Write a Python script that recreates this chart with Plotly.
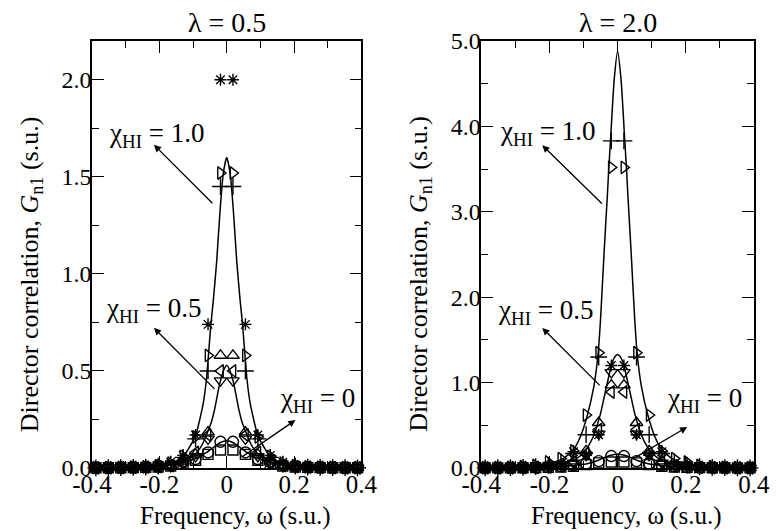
import plotly.graph_objects as go

# ---------------- data ----------------
omega = [-0.3885, -0.3515, -0.3145, -0.2775, -0.2405, -0.2035, -0.1665, -0.1295, -0.0925, -0.0555, -0.0185,
         0.0185, 0.0555, 0.0925, 0.1295, 0.1665, 0.2035, 0.2405, 0.2775, 0.3145, 0.3515, 0.3885]

# lambda = 0.5 panel, simulation points
L_star_c10 = [0.002, 0.002, 0.003, 0.005, 0.008, 0.015, 0.03, 0.065, 0.17, 0.74, 2.0,
              2.0, 0.74, 0.17, 0.065, 0.03, 0.015, 0.008, 0.005, 0.003, 0.002, 0.002]
L_tri_r_c10 = [0.002, 0.002, 0.003, 0.004, 0.006, 0.012, 0.025, 0.06, 0.16, 0.58, 1.52,
               1.52, 0.58, 0.16, 0.06, 0.025, 0.012, 0.006, 0.004, 0.003, 0.002, 0.002]
L_plus_c10 = [0.001, 0.002, 0.002, 0.003, 0.005, 0.01, 0.02, 0.055, 0.15, 0.50, 1.45,
              1.45, 0.50, 0.15, 0.055, 0.02, 0.01, 0.005, 0.003, 0.002, 0.002, 0.001]
L_tri_u_c05 = [0.001, 0.001, 0.002, 0.003, 0.005, 0.008, 0.015, 0.035, 0.07, 0.185, 0.58,
               0.58, 0.185, 0.07, 0.035, 0.015, 0.008, 0.005, 0.003, 0.002, 0.001, 0.001]
L_tri_l_c05 = [0.001, 0.001, 0.002, 0.003, 0.004, 0.007, 0.012, 0.03, 0.08, 0.17, 0.50,
               0.50, 0.17, 0.08, 0.03, 0.012, 0.007, 0.004, 0.003, 0.002, 0.001, 0.001]
L_tri_d_c05 = [0.001, 0.001, 0.002, 0.002, 0.004, 0.006, 0.01, 0.025, 0.06, 0.15, 0.45,
               0.45, 0.15, 0.06, 0.025, 0.01, 0.006, 0.004, 0.002, 0.002, 0.001, 0.001]
L_circ_c0 = [0.001, 0.001, 0.002, 0.003, 0.004, 0.008, 0.015, 0.03, 0.046, 0.08, 0.135,
             0.135, 0.08, 0.046, 0.03, 0.015, 0.008, 0.004, 0.003, 0.002, 0.001, 0.001]
L_sq_c0 = [0.001, 0.001, 0.001, 0.002, 0.003, 0.005, 0.01, 0.02, 0.04, 0.07, 0.093,
           0.093, 0.07, 0.04, 0.02, 0.01, 0.005, 0.003, 0.002, 0.001, 0.001, 0.001]

# lambda = 2.0 panel, simulation points
R_plus_c10 = [0.002, 0.003, 0.005, 0.008, 0.015, 0.03, 0.07, 0.17, 0.39, 1.3, 3.83,
              3.83, 1.3, 0.39, 0.17, 0.07, 0.03, 0.015, 0.008, 0.005, 0.003, 0.002]
R_tri_r_c10 = [0.003, 0.005, 0.008, 0.015, 0.03, 0.07, 0.11, 0.2, 0.62, 1.35, 3.52,
               3.52, 1.35, 0.62, 0.2, 0.11, 0.07, 0.03, 0.015, 0.008, 0.005, 0.003]
R_star_c05 = [0.002, 0.003, 0.004, 0.006, 0.01, 0.02, 0.04, 0.19, 0.15, 0.39, 1.2,
              1.2, 0.39, 0.15, 0.19, 0.04, 0.02, 0.01, 0.006, 0.004, 0.003, 0.002]
R_tri_d_c05 = [0.002, 0.002, 0.003, 0.005, 0.008, 0.015, 0.03, 0.06, 0.15, 0.40, 1.12,
               1.12, 0.40, 0.15, 0.06, 0.03, 0.015, 0.008, 0.005, 0.003, 0.002, 0.002]
R_tri_u_c05 = [0.002, 0.002, 0.003, 0.005, 0.008, 0.015, 0.03, 0.08, 0.2, 0.53, 0.97,
               0.97, 0.53, 0.2, 0.08, 0.03, 0.015, 0.008, 0.005, 0.003, 0.002, 0.002]
R_tri_l_c05 = [0.002, 0.002, 0.003, 0.004, 0.007, 0.012, 0.025, 0.07, 0.17, 0.45, 0.89,
               0.89, 0.45, 0.17, 0.07, 0.025, 0.012, 0.007, 0.004, 0.003, 0.002, 0.002]
R_circ_c0 = [0.002, 0.002, 0.003, 0.004, 0.006, 0.01, 0.02, 0.03, 0.05, 0.08, 0.14,
             0.14, 0.08, 0.05, 0.03, 0.02, 0.01, 0.006, 0.004, 0.003, 0.002, 0.002]
R_sq_c0 = [0.001, 0.001, 0.002, 0.003, 0.004, 0.007, 0.012, 0.02, 0.04, 0.06, 0.07,
           0.07, 0.06, 0.04, 0.02, 0.012, 0.007, 0.004, 0.003, 0.002, 0.001, 0.001]

# theory curves
LA_w = [-0.4, -0.3, -0.25, -0.2, -0.17, -0.14, -0.13, -0.12, -0.1, -0.09, -0.08, -0.07, -0.06, -0.047, -0.04, -0.03, -0.02, -0.01, 0.0,
        0.01, 0.02, 0.03, 0.04, 0.047, 0.06, 0.07, 0.08, 0.09, 0.1, 0.12, 0.13, 0.14, 0.17, 0.2, 0.25, 0.3, 0.4]
LA_g = [0.0, 0.002, 0.004, 0.01, 0.02, 0.04, 0.05, 0.08, 0.14, 0.18, 0.25, 0.33, 0.46, 0.74, 0.86, 1.06, 1.32, 1.52, 1.6,
        1.52, 1.32, 1.06, 0.86, 0.74, 0.46, 0.33, 0.25, 0.18, 0.14, 0.08, 0.05, 0.04, 0.02, 0.01, 0.004, 0.002, 0.0]
LB_w = [-0.4, -0.3, -0.2, -0.15, -0.12, -0.1, -0.08, -0.07, -0.058, -0.045, -0.035, -0.025, -0.02, -0.01, 0.0,
        0.01, 0.02, 0.025, 0.035, 0.045, 0.058, 0.07, 0.08, 0.1, 0.12, 0.15, 0.2, 0.3, 0.4]
LB_g = [0.0, 0.002, 0.008, 0.02, 0.04, 0.06, 0.1, 0.13, 0.18, 0.24, 0.31, 0.40, 0.44, 0.5, 0.53,
        0.5, 0.44, 0.40, 0.31, 0.24, 0.18, 0.13, 0.1, 0.06, 0.04, 0.02, 0.008, 0.002, 0.0]
LC_w = [-0.4, -0.3, -0.25, -0.2, -0.17, -0.13, -0.09, -0.06, -0.04, -0.02, 0.0,
        0.02, 0.04, 0.06, 0.09, 0.13, 0.17, 0.2, 0.25, 0.3, 0.4]
LC_g = [0.0, 0.002, 0.004, 0.009, 0.015, 0.028, 0.05, 0.08, 0.105, 0.13, 0.14,
        0.13, 0.105, 0.08, 0.05, 0.028, 0.015, 0.009, 0.004, 0.002, 0.0]

RA_w = [-0.4, -0.3, -0.25, -0.2, -0.16, -0.13, -0.11, -0.09, -0.07, -0.057, -0.05, -0.04, -0.03, -0.026, -0.02, -0.01, 0.0,
        0.01, 0.02, 0.026, 0.03, 0.04, 0.05, 0.057, 0.07, 0.09, 0.11, 0.13, 0.16, 0.2, 0.25, 0.3, 0.4]
RA_g = [0.0, 0.008, 0.02, 0.05, 0.11, 0.21, 0.36, 0.6, 0.95, 1.35, 1.75, 2.5, 3.2, 3.5, 3.9, 4.55, 4.88,
        4.55, 3.9, 3.5, 3.2, 2.5, 1.75, 1.35, 0.95, 0.6, 0.36, 0.21, 0.11, 0.05, 0.02, 0.008, 0.0]
RB_w = [-0.4, -0.3, -0.25, -0.2, -0.16, -0.13, -0.11, -0.09, -0.07, -0.06, -0.05, -0.04, -0.03, -0.0185, -0.01, 0.0,
        0.01, 0.0185, 0.03, 0.04, 0.05, 0.06, 0.07, 0.09, 0.11, 0.13, 0.16, 0.2, 0.25, 0.3, 0.4]
RB_g = [0.0, 0.005, 0.01, 0.025, 0.05, 0.09, 0.14, 0.23, 0.38, 0.5, 0.64, 0.82, 1.0, 1.2, 1.29, 1.33,
        1.29, 1.2, 1.0, 0.82, 0.64, 0.5, 0.38, 0.23, 0.14, 0.09, 0.05, 0.025, 0.01, 0.005, 0.0]
RC_w = [-0.4, -0.3, -0.25, -0.2, -0.17, -0.13, -0.09, -0.06, -0.04, -0.02, 0.0,
        0.02, 0.04, 0.06, 0.09, 0.13, 0.17, 0.2, 0.25, 0.3, 0.4]
RC_g = [0.0, 0.002, 0.004, 0.01, 0.015, 0.028, 0.05, 0.085, 0.12, 0.15, 0.16,
        0.15, 0.12, 0.085, 0.05, 0.028, 0.015, 0.01, 0.004, 0.002, 0.0]

x_tickvals = [-0.4, -0.2, 0.0, 0.2, 0.4]
x_ticktext = ["-0.4", "-0.2", "0", "0.2", "0.4"]
yL_tickvals = [0.0, 0.5, 1.0, 1.5, 2.0]
yL_ticktext = ["0.0", "0.5", "1.0", "1.5", "2.0"]
yR_tickvals = [0.0, 1.0, 2.0, 3.0, 4.0, 5.0]
yR_ticktext = ["0.0", "1.0", "2.0", "3.0", "4.0", "5.0"]
panel_titles = ["λ = 0.5", "λ = 2.0"]
chi_labels = ["χ<sub>HI</sub> = 1.0", "χ<sub>HI</sub> = 0.5", "χ<sub>HI</sub> = 0"]
x_title = "Frequency, ω (s.u.)"
y_title = "Director correlation, <i>G</i><sub>n1</sub> (s.u.)"

FONT = "Liberation Serif"
DOM_L = [0, 0.407]
DOM_R = [0.588, 1.0]

fig = go.Figure()

def curve(xs, ys, xa, ya):
    fig.add_trace(go.Scatter(x=xs, y=ys, mode="lines", line=dict(color="black", width=1.5, shape="spline", smoothing=0.6),
                             xaxis=xa, yaxis=ya, showlegend=False, hoverinfo="skip"))

def pts(ys, sym, xa, ya, size=10):
    fig.add_trace(go.Scatter(x=omega, y=ys, mode="markers", cliponaxis=False,
                             marker=dict(symbol=sym, size=size, color="black", line=dict(color="black", width=1.4)),
                             xaxis=xa, yaxis=ya, showlegend=False))

for xs, ys in [(LA_w, LA_g), (LB_w, LB_g), (LC_w, LC_g)]:
    curve(xs, ys, "x", "y")
for xs, ys in [(RA_w, RA_g), (RB_w, RB_g), (RC_w, RC_g)]:
    curve(xs, ys, "x2", "y2")

pts(L_sq_c0, "square-open", "x", "y", 10)
pts(L_circ_c0, "circle-open", "x", "y", 11)
pts(L_tri_d_c05, "triangle-down-open", "x", "y", 11)
pts(L_tri_l_c05, "triangle-left-open", "x", "y", 11)
pts(L_tri_u_c05, "triangle-up-open", "x", "y", 11)
pts(L_plus_c10, "cross-thin-open", "x", "y", 12)
pts(L_tri_r_c10, "triangle-right-open", "x", "y", 11)
pts(L_star_c10, "asterisk-open", "x", "y", 10)

pts(R_sq_c0, "square-open", "x2", "y2", 10)
pts(R_circ_c0, "circle-open", "x2", "y2", 11)
pts(R_tri_l_c05, "triangle-left-open", "x2", "y2", 11)
pts(R_tri_u_c05, "triangle-up-open", "x2", "y2", 11)
pts(R_tri_d_c05, "triangle-down-open", "x2", "y2", 11)
pts(R_star_c05, "asterisk-open", "x2", "y2", 10)
pts(R_tri_r_c10, "triangle-right-open", "x2", "y2", 11)
pts(R_plus_c10, "cross-thin-open", "x2", "y2", 12)

axis_common = dict(showline=True, linecolor="black", linewidth=1.5, mirror="allticks", ticks="inside",
                   ticklen=12, tickwidth=1.3, tickcolor="black", showgrid=False, zeroline=False)
xtickfont = dict(family=FONT, size=25, color="black")
ytickfont = dict(family=FONT, size=24, color="black")
minor_x = dict(dtick=0.1, ticks="inside", ticklen=7, tickcolor="black", tickwidth=1.2)

# the page body adds an 8 px margin, so the figure is 8 px smaller and its margins 8 px tighter
fig.update_layout(
    width=774, height=523, plot_bgcolor="white", paper_bgcolor="white",
    margin=dict(l=84, r=17, t=33, b=63),
    font=dict(family=FONT, size=24, color="black"),
    xaxis=dict(domain=DOM_L, range=[-0.4, 0.4], tickvals=x_tickvals, ticktext=x_ticktext,
               minor=minor_x, tickfont=xtickfont, ticklabelstandoff=-7, **axis_common),
    yaxis=dict(range=[0, 2.2], tickvals=yL_tickvals, ticktext=yL_ticktext, tickfont=ytickfont,
               ticklabelstandoff=-6,
               minor=dict(dtick=0.25, ticks="inside", ticklen=7, tickcolor="black", tickwidth=1.2),
               **axis_common),
    xaxis2=dict(domain=DOM_R, range=[-0.4, 0.4], tickvals=x_tickvals, ticktext=x_ticktext, anchor="y2",
                minor=minor_x, tickfont=xtickfont, ticklabelstandoff=-7, **axis_common),
    yaxis2=dict(range=[0, 5.0], tickvals=yR_tickvals, ticktext=yR_ticktext, anchor="x2", tickfont=ytickfont,
                ticklabelstandoff=-6,
                minor=dict(dtick=0.5, ticks="inside", ticklen=7, tickcolor="black", tickwidth=1.2),
                **axis_common),
)

# panel titles and axis titles (paper coordinates)
for i, t in enumerate(panel_titles):
    dom = DOM_L if i == 0 else DOM_R
    cx = (dom[0] + dom[1]) / 2
    fig.add_annotation(text=t, xref="paper", yref="paper", x=cx, y=1, xanchor="center", yanchor="middle",
                       yshift=19, showarrow=False, font=dict(family=FONT, size=28, color="black"))
    fig.add_annotation(text=x_title, xref="paper", yref="paper", x=cx + 0.012, y=-0.112, xanchor="center",
                       yanchor="middle", showarrow=False, font=dict(family=FONT, size=25, color="black"))
for px in [-0.092, 0.495]:
    fig.add_annotation(text=y_title, xref="paper", yref="paper", x=px, y=0.454, xanchor="center", yanchor="middle",
                       textangle=-90, showarrow=False, font=dict(family=FONT, size=26, color="black"))

# arrows (head, tail) and labels in data coordinates
arrows = [
    ("x", "y", -0.216, 1.665, -0.038, 1.356),
    ("x", "y", -0.216, 0.722, -0.032, 0.40),
    ("x", "y", 0.204, 0.247, 0.041, 0.052),
    ("x2", "y2", -0.221, 3.78, -0.042, 3.08),
    ("x2", "y2", -0.221, 1.64, -0.048, 0.95),
    ("x2", "y2", 0.204, 0.48, 0.039, 0.094),
]
for xa, ya, hx, hy, tx, ty in arrows:
    fig.add_annotation(xref=xa, yref=ya, axref=xa, ayref=ya, x=hx, y=hy, ax=tx, ay=ty, text="",
                       showarrow=True, arrowhead=2, arrowsize=1.1, arrowwidth=1.3, arrowcolor="black")

labels = [
    ("x", "y", -0.209, 1.716, chi_labels[0]),
    ("x", "y", -0.216, 0.814, chi_labels[1]),
    ("x", "y", 0.269, 0.35, chi_labels[2]),
    ("x2", "y2", -0.207, 3.92, chi_labels[0]),
    ("x2", "y2", -0.213, 1.83, chi_labels[1]),
    ("x2", "y2", 0.256, 0.80, chi_labels[2]),
]
for xa, ya, lx, ly, txt in labels:
    fig.add_annotation(xref=xa, yref=ya, x=lx, y=ly, text=txt, showarrow=False, xanchor="center",
                       font=dict(family=FONT, size=27, color="black"))

fig.write_html("out.html")
